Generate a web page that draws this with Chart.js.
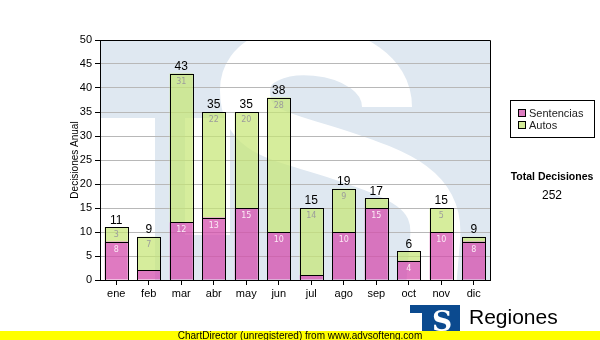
<!DOCTYPE html>
<html lang="es">
<head>
<meta charset="utf-8">
<title>Decisiones Anual</title>
<script src="https://cdn.jsdelivr.net/npm/chart.js@4.4.1/dist/chart.umd.min.js"></script>
<style>
  html, body { margin: 0; padding: 0; background: #fff; }
  #grafico { display: block; }
</style>
</head>
<body>
<canvas id="grafico" width="600" height="340"></canvas>
<script>
const meses = ['ene', 'feb', 'mar', 'abr', 'may', 'jun', 'jul', 'ago', 'sep', 'oct', 'nov', 'dic'];
const sentencias = [8, 2, 12, 13, 15, 10, 1, 10, 15, 4, 10, 8];
const autos = [3, 7, 31, 22, 20, 28, 14, 9, 2, 2, 5, 1];
const ejeMin = 0;
const ejeMax = 50;
const ejePaso = 5;

const totales = meses.map((m, i) => sentencias[i] + autos[i]);
const totalDecisiones = totales.reduce((a, b) => a + b, 0);

const fuente = '"Liberation Sans", Arial, sans-serif';

// logo de fondo (T + S) dentro del area de trazado
function marcaAgua(ctx, area) {
    const w = area.right - area.left;
    const h = area.bottom - area.top;
    ctx.save();
    ctx.beginPath();
    ctx.rect(area.left, area.top, w, h);
    ctx.clip();
    ctx.fillStyle = '#dfe8f1';
    ctx.fillRect(area.left, area.top, w, h);
    ctx.translate(area.left, area.top);
    ctx.scale(w / 390, h / 240);
    ctx.fillStyle = '#fff';
    ctx.fillRect(0, 78, 55, 170);
    ctx.fillRect(85, 78, 45, 117);
    ctx.strokeStyle = '#fff';
    ctx.lineWidth = 50;
    ctx.lineCap = 'butt';
    ctx.beginPath();
    ctx.moveTo(287, 67);
    ctx.bezierCurveTo(287, 0, 145, -10, 145, 50);
    ctx.bezierCurveTo(145, 95, 180, 95, 240, 115);
    ctx.bezierCurveTo(300, 135, 340, 150, 335, 200);
    ctx.lineTo(330, 260);
    ctx.stroke();
    ctx.restore();
}

const plugFondo = {
    id: 'fondo',
    beforeDraw(chart) {
        marcaAgua(chart.ctx, chart.chartArea);
    }
};

const plugEtiquetas = {
    id: 'etiquetas',
    afterDatasetsDraw(chart) {
        const ctx = chart.ctx;
        const y = chart.scales.y;
        const area = chart.chartArea;
        ctx.save();
        // marco superior y derecho
        ctx.strokeStyle = '#000';
        ctx.lineWidth = 1;
        ctx.beginPath();
        ctx.moveTo(area.left, area.top + 0.5);
        ctx.lineTo(area.right + 0.5, area.top + 0.5);
        ctx.lineTo(area.right + 0.5, area.bottom);
        ctx.stroke();

        // contorno de cada tramo, alineado al pixel
        chart.data.datasets.forEach((ds, d) => {
            chart.getDatasetMeta(d).data.forEach((bar) => {
                const x0 = Math.round(bar.x - bar.width / 2);
                const x1 = Math.round(bar.x + bar.width / 2);
                const y0 = Math.round(bar.y);
                const y1 = Math.round(bar.base);
                if (y1 - y0 < 1) return;
                ctx.strokeRect(x0 + 0.5, y0 + 0.5, x1 - x0, y1 - y0);
            });
        });

        // valores dentro de cada tramo
        ctx.textAlign = 'center';
        ctx.textBaseline = 'top';
        ctx.font = '8px "DejaVu Sans", sans-serif';
        const colores = ['#fbeaf5', '#9c9c9c'];
        chart.data.datasets.forEach((ds, d) => {
            chart.getDatasetMeta(d).data.forEach((bar, i) => {
                if (ds.data[i] >= 3) {
                    ctx.fillStyle = colores[d];
                    ctx.fillText(ds.data[i], bar.x, bar.y + 4);
                }
            });
        });

        // total encima de cada barra
        ctx.textBaseline = 'bottom';
        ctx.fillStyle = '#000';
        ctx.font = '12px ' + fuente;
        const ultima = chart.getDatasetMeta(chart.data.datasets.length - 1).data;
        ultima.forEach((bar, i) => {
            ctx.fillText(totales[i], bar.x, y.getPixelForValue(totales[i]) - 1);
        });
        ctx.restore();
    },
    afterDraw(chart) {
        const ctx = chart.ctx;
        ctx.save();

        // leyenda
        ctx.fillStyle = '#fff';
        ctx.fillRect(510, 100, 84, 37);
        ctx.strokeStyle = '#000';
        ctx.lineWidth = 1;
        ctx.strokeRect(510.5, 100.5, 84, 37);
        const series = chart.data.datasets;
        ctx.font = '11px ' + fuente;
        ctx.textAlign = 'left';
        ctx.textBaseline = 'middle';
        series.forEach((ds, k) => {
            const yy = 113 + k * 12;
            ctx.fillStyle = ds.legendColor;
            ctx.fillRect(518, yy - 4, 8, 8);
            ctx.strokeStyle = '#000';
            ctx.strokeRect(518.5, yy - 3.5, 7, 7);
            ctx.fillStyle = '#222';
            ctx.fillText(ds.label, 529, yy + 1);
        });

        // total general
        ctx.textAlign = 'center';
        ctx.fillStyle = '#000';
        ctx.font = 'bold 10.5px ' + fuente;
        ctx.fillText('Total Decisiones', 552, 177);
        ctx.font = '12px ' + fuente;
        ctx.fillText(String(totalDecisiones), 552, 196);

        // logo inferior
        ctx.fillStyle = '#0b4a8f';
        ctx.fillRect(410, 305, 50, 28);
        ctx.fillStyle = '#fff';
        ctx.fillRect(410, 313, 12, 22);
        ctx.font = 'bold 28px "DejaVu Serif", serif';
        ctx.textBaseline = 'alphabetic';
        ctx.fillText('S', 442, 331);
        ctx.fillStyle = '#000';
        ctx.textAlign = 'left';
        ctx.font = '21px ' + fuente;
        ctx.fillText('Regiones', 469, 324);

        // banda amarilla
        ctx.fillStyle = '#ffff00';
        ctx.fillRect(0, 331, 600, 9);
        ctx.fillStyle = '#000';
        ctx.textAlign = 'center';
        ctx.textBaseline = 'middle';
        ctx.font = '10px ' + fuente;
        ctx.fillText('ChartDirector (unregistered) from www.advsofteng.com', 300, 336);
        ctx.restore();
    }
};

new Chart(document.getElementById('grafico'), {
    type: 'bar',
    data: {
        labels: meses,
        datasets: [
            {
                label: 'Sentencias',
                data: sentencias,
                backgroundColor: 'rgba(212, 78, 172, 0.75)',
                legendColor: '#dc7cc0',
                borderWidth: 0
            },
            {
                label: 'Autos',
                data: autos,
                backgroundColor: 'rgba(198, 230, 118, 0.72)',
                legendColor: '#d4ec98',
                borderWidth: 0
            }
        ]
    },
    options: {
        responsive: false,
        animation: false,
        layout: { padding: { top: 40, right: 110, left: 0, bottom: 0 } },
        datasets: { bar: { categoryPercentage: 1, barPercentage: 0.71 } },
        plugins: {
            legend: { display: false },
            tooltip: { enabled: false }
        },
        scales: {
            x: {
                stacked: true,
                grid: { drawOnChartArea: false, drawTicks: true, tickLength: 5, tickColor: '#000', offset: false },
                border: { display: true, color: '#000' },
                ticks: { color: '#000', font: { family: fuente, size: 11 }, padding: 2 },
                afterFit(s) { s.height = 60; }
            },
            y: {
                stacked: true,
                min: ejeMin,
                max: ejeMax,
                ticks: { stepSize: ejePaso, color: '#000', font: { family: fuente, size: 11 }, padding: 3 },
                grid: { color: '#b8b8b8', tickColor: '#000', tickLength: 5 },
                border: { display: true, color: '#000' },
                title: {
                    display: true,
                    text: 'Decisiones Anual',
                    color: '#000',
                    font: { family: fuente, size: 10 },
                    padding: { top: 69, bottom: 0 }
                },
                afterFit(s) { s.width = 100; }
            }
        }
    },
    plugins: [plugFondo, plugEtiquetas]
});
</script>
</body>
</html>
